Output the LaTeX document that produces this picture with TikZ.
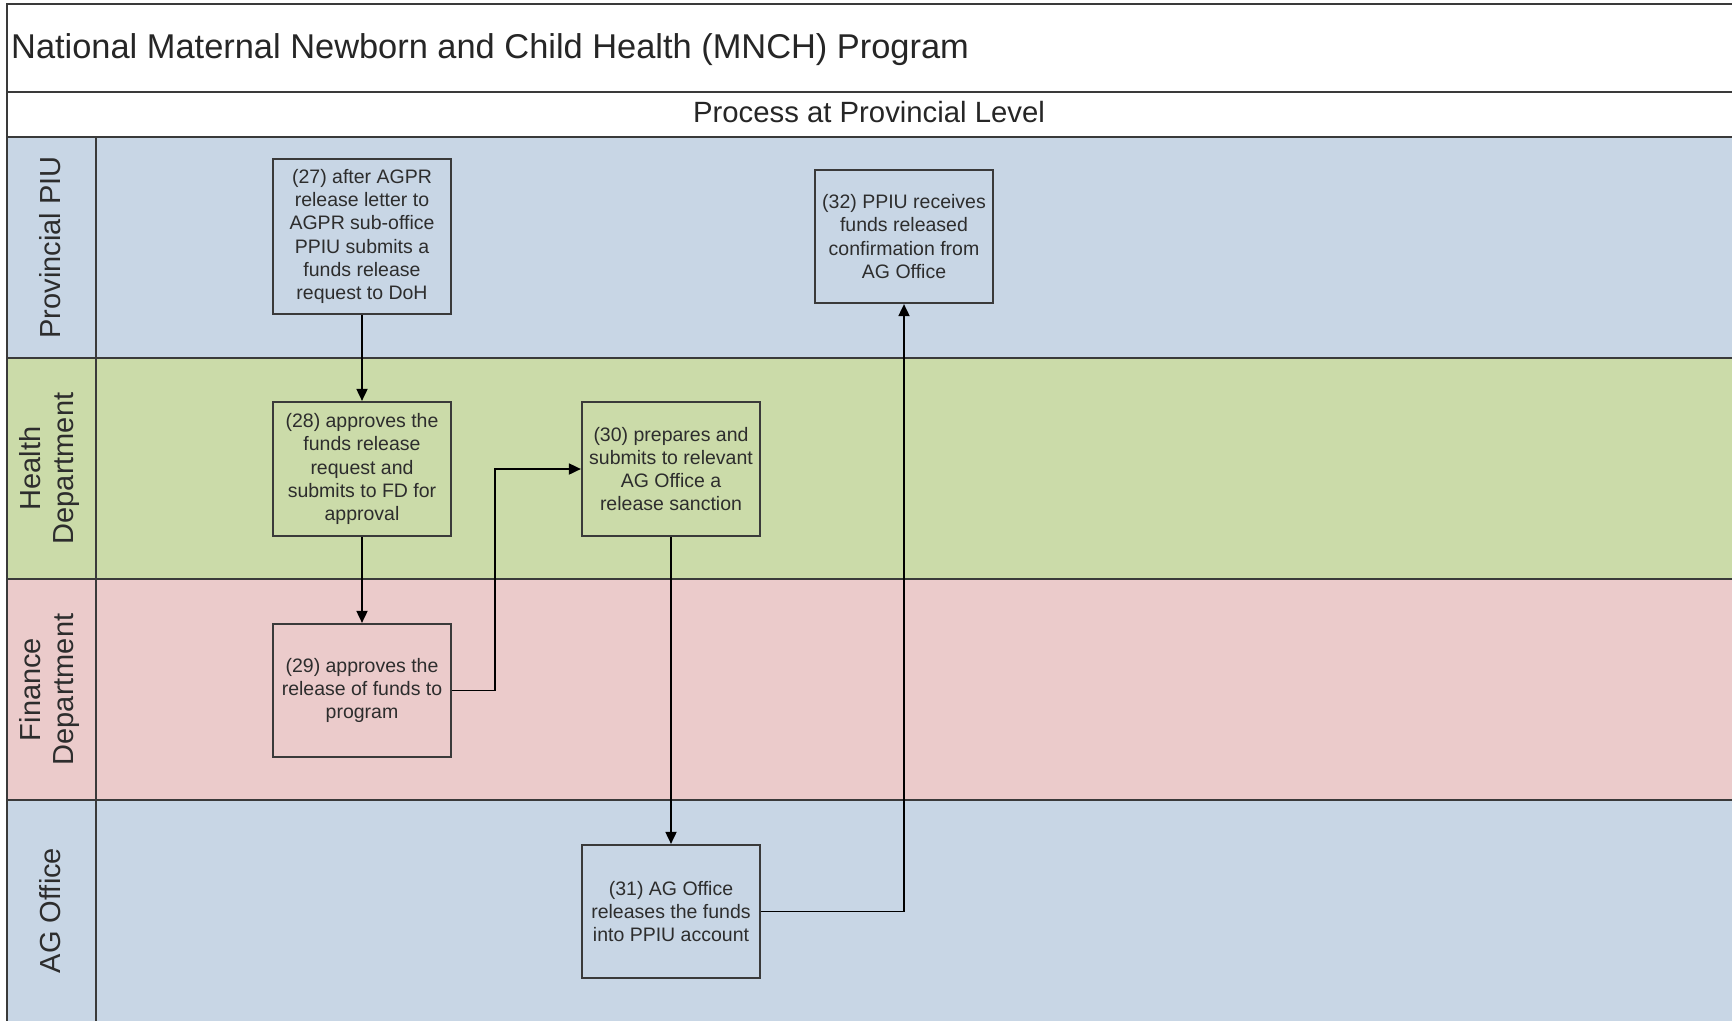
\documentclass[tikz,border=0pt]{standalone}
\usepackage{fontspec}
\setmainfont{Liberation Sans}
\usetikzlibrary{arrows.meta}
\definecolor{laneblue}{RGB}{200,214,229}
\definecolor{lanegreen}{RGB}{203,219,169}
\definecolor{lanepink}{RGB}{235,203,203}
\definecolor{edgegray}{RGB}{58,58,58}
\definecolor{txtgray}{RGB}{45,45,45}
\tikzset{
  stepbox/.style={draw=edgegray, line width=2.2pt, minimum width=178pt, inner sep=0pt,
    align=center, text=txtgray, font=\fontsize{19.5}{23.2}\selectfont},
  lanelabel/.style={rotate=90, align=center, text=txtgray, font=\fontsize{29}{33}\selectfont},
  sep/.style={draw=edgegray, line width=2pt},
  arr/.style={draw=black, line width=1.8pt, -{Triangle[length=12pt,width=11pt]}}
}
\begin{document}
\begin{tikzpicture}[x=1pt,y=-1pt]
\useasboundingbox (0,0) rectangle (1732,1021);
% backgrounds
\fill[white] (7,4) rectangle (1732,137);
\fill[laneblue] (7,137) rectangle (1732,358);
\fill[lanegreen] (7,358) rectangle (1732,579);
\fill[lanepink] (7,579) rectangle (1732,800);
\fill[laneblue] (7,800) rectangle (1732,1021);
% lines
\draw[sep, line width=2.5pt] (1732,4) -- (7,4) -- (7,1021);
\draw[sep] (7,92) -- (1732,92);
\draw[sep] (7,137) -- (1732,137);
\draw[sep] (7,358) -- (1732,358);
\draw[sep] (7,579) -- (1732,579);
\draw[sep] (7,800) -- (1732,800);
\draw[sep] (96,137) -- (96,1021);
% titles
\node[anchor=west, inner sep=0pt, text=black!85, font=\fontsize{34.4}{40}\selectfont] (title) at (11,50) {National Maternal Newborn and Child Health (MNCH) Program};
\node[inner sep=0pt, text=black!85, font=\fontsize{29.3}{34}\selectfont] (header) at (869,112) {Process at Provincial Level};
% lane labels
\node[lanelabel] (l1) at (50,247.5) {Provincial PIU};
\node[lanelabel] (l2) at (50,468.5) {Health\\Department};
\node[lanelabel] (l3) at (50,689.5) {Finance\\Department};
\node[lanelabel] (l4) at (50,910.5) {AG Office};
% steps
\node[stepbox, minimum height=155pt] (b27) at (362,236.5) {(27) after AGPR\\release letter to\\AGPR sub-office\\PPIU submits a\\funds release\\request to DoH};
\node[stepbox, minimum height=134pt] (b28) at (362,469) {(28) approves the\\funds release\\request and\\submits to FD for\\approval};
\node[stepbox, minimum height=133pt] (b29) at (362,690.5) {(29) approves the\\release of funds to\\program};
\node[stepbox, minimum height=134pt] (b30) at (671,469) {(30) prepares and\\submits to relevant\\AG Office a\\release sanction};
\node[stepbox, minimum height=133pt] (b31) at (671,911.5) {(31) AG Office\\releases the funds\\into PPIU account};
\node[stepbox, minimum height=133pt] (b32) at (904,236.5) {(32) PPIU receives\\funds released\\confirmation from\\AG Office};
% connectors
\draw[arr] (b27) -- (b28);
\draw[arr] (b28) -- (b29);
\draw[arr] (b29.east) -- ++(43,0) |- (b30.west);
\draw[arr] (b30) -- (b31);
\draw[arr] (b31.east) -| (b32.south);
\end{tikzpicture}
\end{document}
